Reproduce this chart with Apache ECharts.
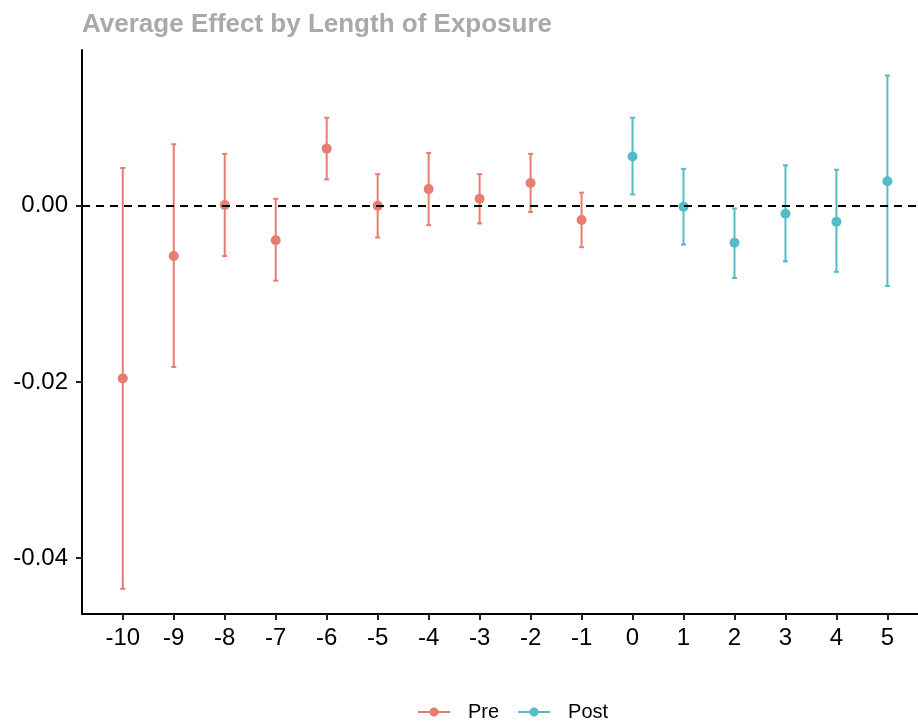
<!DOCTYPE html>
<html>
<head>
<meta charset="utf-8">
<script src="https://cdn.jsdelivr.net/npm/echarts@6/dist/echarts.min.js"></script>
<style>html,body{margin:0;padding:0;background:#fff}#c{width:918px;height:724px}</style>
</head>
<body>
<div id="c"></div>
<script>
var titleText = 'Average Effect by Length of Exposure';
var xTicks = [-10,-9,-8,-7,-6,-5,-4,-3,-2,-1,0,1,2,3,4,5];
var yTicks = [-0.04,-0.02,0];
var xPre = [-10,-9,-8,-7,-6,-5,-4,-3,-2,-1];
var estPre  = [-0.0196,-0.0057, 0.0001,-0.0039, 0.0065, 0.0000, 0.0019, 0.0008, 0.0026,-0.0016];
var lowPre  = [-0.0435,-0.0183,-0.0057,-0.0085, 0.0030,-0.0036,-0.0022,-0.0020,-0.0007,-0.0047];
var highPre = [ 0.0043, 0.0070, 0.0059, 0.0008, 0.0100, 0.0036, 0.0060, 0.0036, 0.0059, 0.0015];
var xPost = [0,1,2,3,4,5];
var estPost  = [ 0.0056,-0.0001,-0.0042,-0.0009,-0.0018, 0.0028];
var lowPost  = [ 0.0013,-0.0044,-0.0082,-0.0063,-0.0075,-0.0091];
var highPost = [ 0.0100, 0.0042,-0.0003, 0.0046, 0.0041, 0.0148];

var colPre = '#E97C71', colPost = '#55BCC5';

function pts(xs, ys){ return xs.map(function(x,i){return [x, ys[i]];}); }
function bars(xs, lo, hi){ return xs.map(function(x,i){return [x, lo[i], hi[i]];}); }
function errRender(color){
  return function(params, api){
    var x = api.value(0);
    var p1 = api.coord([x, api.value(1)]);
    var p2 = api.coord([x, api.value(2)]);
    var hw = 2.5;
    var st = {stroke: color, lineWidth: 2};
    return {type:'group', children:[
      {type:'line', shape:{x1:p1[0],y1:p1[1],x2:p2[0],y2:p2[1]}, style:st},
      {type:'line', shape:{x1:p1[0]-hw,y1:p1[1],x2:p1[0]+hw,y2:p1[1]}, style:st},
      {type:'line', shape:{x1:p2[0]-hw,y1:p2[1],x2:p2[0]+hw,y2:p2[1]}, style:st}
    ]};
  };
}
var legendIcon = 'path://M0,3.5 L32,3.5 L32,5.5 L0,5.5 Z M16,9 A4.5,4.5 0 1,1 16,0 A4.5,4.5 0 1,1 16,9 Z';

var chart = echarts.init(document.getElementById('c'), null, {renderer:'canvas'});
chart.setOption({
  animation:false,
  title:{text:titleText, left:82, top:12, padding:0, textStyle:{fontFamily:'Liberation Sans', fontWeight:'bold', fontSize:26, color:'#A9A9A9'}},
  grid:{left:82, right:0, top:50, bottom:110, containLabel:false},
  xAxis:{type:'value', min:-10.8, max:5.6,
    axisLine:{show:true, onZero:false, lineStyle:{color:'#000', width:2}},
    axisTick:{show:true, length:6, lineStyle:{color:'#222', width:2}, customValues:xTicks},
    axisLabel:{customValues:xTicks, fontFamily:'Liberation Sans', fontSize:24, color:'#000', margin:12},
    splitLine:{show:false}},
  yAxis:{type:'value', min:-0.04636, max:0.0177,
    axisLine:{show:true, onZero:false, lineStyle:{color:'#000', width:2}},
    axisTick:{show:true, length:6, lineStyle:{color:'#222', width:2}, customValues:yTicks},
    axisLabel:{customValues:yTicks, fontFamily:'Liberation Sans', fontSize:24, color:'#000', margin:14,
      formatter:function(v){return v.toFixed(2);}},
    splitLine:{show:false}},
  legend:{bottom:2, left:418, padding:0, itemWidth:32, itemHeight:9, itemGap:19,
    textStyle:{fontFamily:'Liberation Sans', fontSize:20, color:'#000', padding:[0,0,0,13]},
    data:[{name:'Pre', icon:legendIcon},{name:'Post', icon:legendIcon}]},
  series:[
    {type:'custom', name:'Pre', data:bars(xPre, lowPre, highPre), renderItem:errRender(colPre), itemStyle:{color:colPre}, z:2},
    {type:'custom', name:'Post', data:bars(xPost, lowPost, highPost), renderItem:errRender(colPost), itemStyle:{color:colPost}, z:2},
    {type:'scatter', name:'Pre', data:pts(xPre, estPre), symbolSize:10, itemStyle:{color:colPre, opacity:1}, z:3,
      markLine:{silent:true, symbol:['none','none'], label:{show:false},
        lineStyle:{color:'#000', type:[8,6], width:2}, data:[{yAxis:0}]}},
    {type:'scatter', name:'Post', data:pts(xPost, estPost), symbolSize:10, itemStyle:{color:colPost, opacity:1}, z:3}
  ]
});
</script>
</body>
</html>
